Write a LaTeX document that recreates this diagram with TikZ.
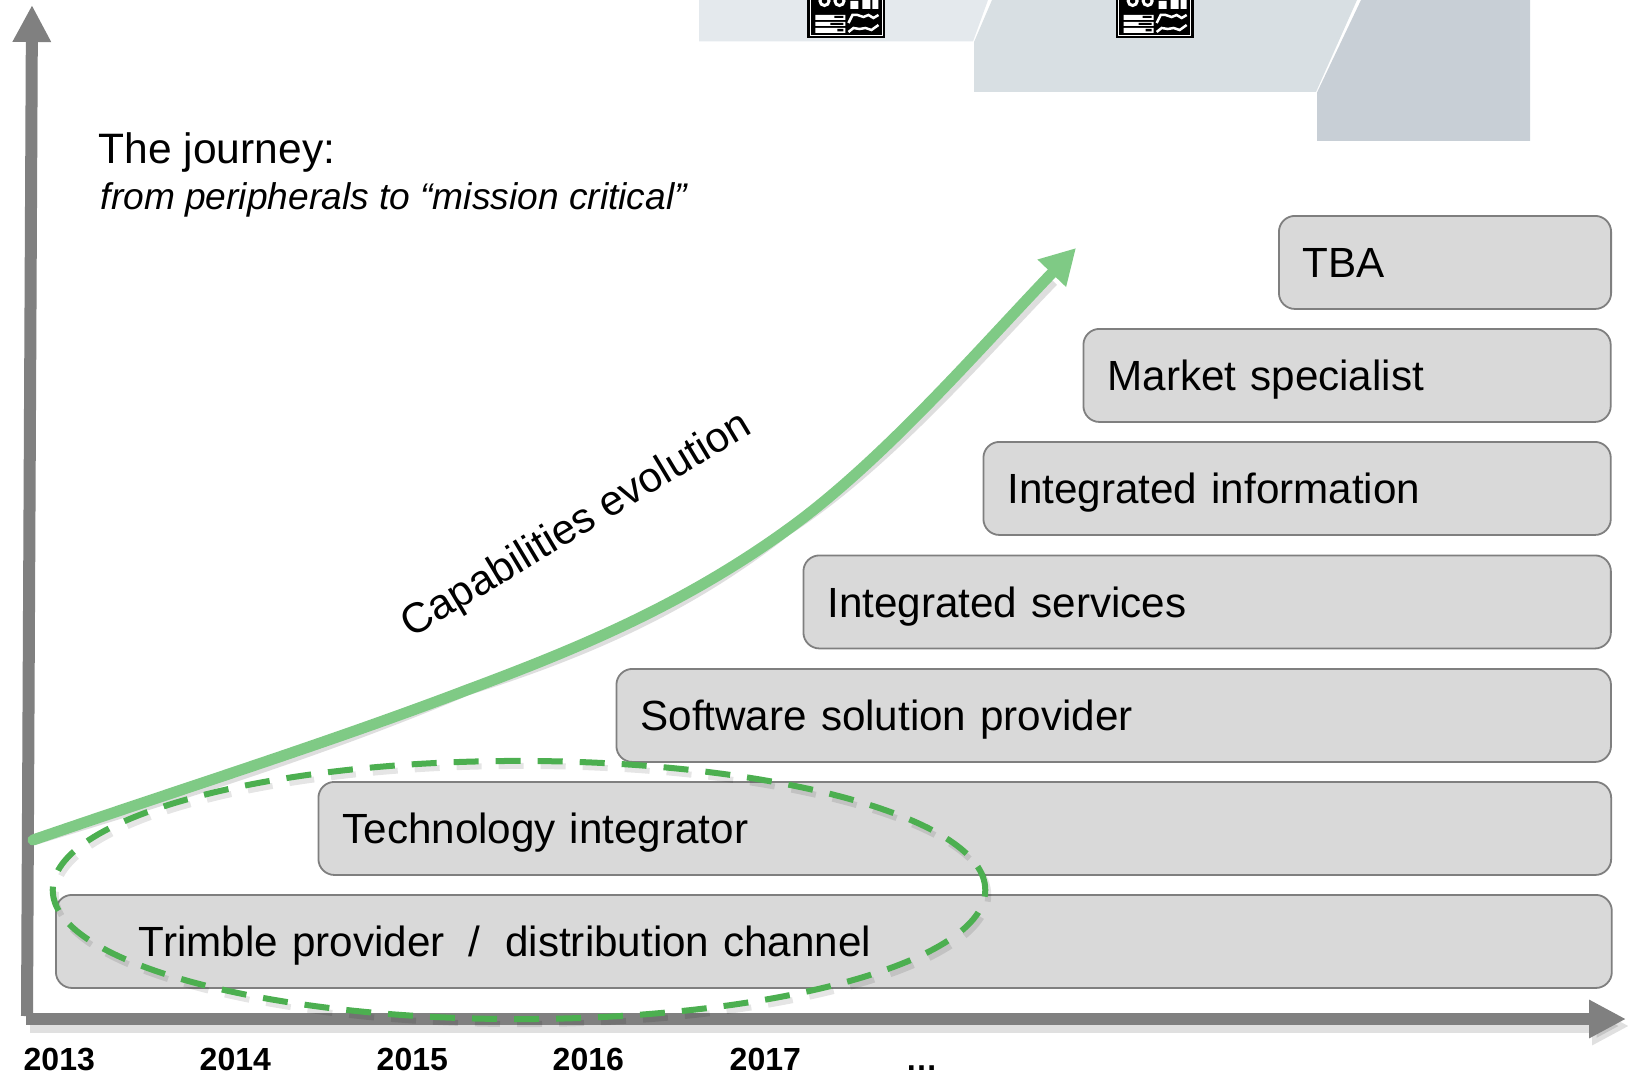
\documentclass[tikz,border=0pt]{standalone}
\usepackage{fontspec}
\setmainfont{Liberation Sans}
\usetikzlibrary{arrows.meta}

\definecolor{panelone}{HTML}{E4E9ED}
\definecolor{paneltwo}{HTML}{D8DFE3}
\definecolor{panelthree}{HTML}{C8CFD6}
\definecolor{stagefill}{HTML}{D9D9D9}
\definecolor{stageline}{HTML}{7F7F7F}
\definecolor{axisgray}{HTML}{808080}
\definecolor{curvegreen}{HTML}{7FCA85}
\definecolor{ringgreen}{HTML}{4CAF50}

\tikzset{
  stagebox/.style={draw=stageline, fill=stagefill, line width=0.18mm, rounded corners=0.16cm, anchor=north west,
    minimum height=0.93cm, inner xsep=0.24cm, inner ysep=0pt, align=left, text height=0.46cm, text depth=0.15cm,
    font=\fontsize{12}{14}\selectfont},
  axisline/.style={draw=axisgray, line width=0.12cm, -{Triangle[length=0.37cm,width=0.36cm]}},
  axisshadow/.style={draw=black, opacity=0.12, line width=0.14cm, -{Triangle[length=0.37cm,width=0.36cm]}},
  curveshadow/.style={draw=black, opacity=0.13, line width=0.11cm},
  ringline/.style={draw=ringgreen, line width=0.06cm, dash pattern=on 0.25cm off 0.17cm},
  yearlabel/.style={anchor=base west, inner sep=0pt, font=\fontsize{9.1}{11}\selectfont\bfseries},
}

\begin{document}
\begin{tikzpicture}[x=0.01cm,y=-0.01cm]

    \useasboundingbox (0,0) rectangle (1631,1076);

    % panels at the top
    \fill[panelone] (699,0) -- (988,0) -- (973,41.5) -- (699,41.5) -- cycle;
    \fill[paneltwo] (992,0) -- (1357,0) -- (1316,92) -- (974,92) -- (974,42) -- cycle;
    \fill[panelthree] (1361,0) -- (1530,0) -- (1530,141) -- (1317,141) -- (1317,92.5) -- cycle;

    \begin{scope}[xshift=8.07cm]
      \fill[black] (0,0) rectangle (78,38);
      \draw[white, line width=0.1mm] (3,0) -- (3,35.5) -- (75,35.5) -- (75,0);
      \draw[white, line width=0.3mm] (17,1) circle [radius=0.045cm] (32,1) circle [radius=0.045cm];
      \fill[white] (43,1) rectangle (51,9) (55,0) rectangle (63,9) (65,0) rectangle (71,9);
      \fill[white] (8,15) rectangle (38,20) (8,22) rectangle (38,26) (8,28) rectangle (38,33);
      \fill[black] (27,16) rectangle (36,18) (23,23) rectangle (36,25) (30,29) rectangle (36,31.5);
      \draw[white, line width=0.25mm] (41,23) -- (45,15) -- (50,15) -- (56,17) -- (61,15) -- (66,18) -- (71,15);
      \draw[white, line width=0.25mm] (41,32) -- (46,28) -- (52,29) -- (58,28) -- (64,30) -- (71,25);
    \end{scope}

    \begin{scope}[xshift=11.15cm]
      \fill[black] (0,0) rectangle (78,38);
      \draw[white, line width=0.1mm] (3,0) -- (3,35.5) -- (75,35.5) -- (75,0);
      \draw[white, line width=0.3mm] (17,1) circle [radius=0.045cm] (32,1) circle [radius=0.045cm];
      \fill[white] (43,1) rectangle (51,9) (55,0) rectangle (63,9) (65,0) rectangle (71,9);
      \fill[white] (8,15) rectangle (38,20) (8,22) rectangle (38,26) (8,28) rectangle (38,33);
      \fill[black] (27,16) rectangle (36,18) (23,23) rectangle (36,25) (30,29) rectangle (36,31.5);
      \draw[white, line width=0.25mm] (41,23) -- (45,15) -- (50,15) -- (56,17) -- (61,15) -- (66,18) -- (71,15);
      \draw[white, line width=0.25mm] (41,32) -- (46,28) -- (52,29) -- (58,28) -- (64,30) -- (71,25);
    \end{scope}

    % axes
    \coordinate (ytop) at (32,5);
    \coordinate (xend) at (1626,1019);

    \draw[axisshadow] (30,1026) -- (1629,1026);
    \draw[axisline] (27,1016) -- (ytop);
    \draw[axisline] (26,1019) -- (xend);

    % title
    \node (title) at (98,163) [anchor=base west, inner sep=0pt, font=\fontsize{12.1}{14}\selectfont] {The journey:};
    \node (subtitle) at (100,209) [anchor=base west, inner sep=0pt, font=\fontsize{10.56}{12}\selectfont\itshape] {from peripherals to “mission critical”};

    % stages
    \node (tba) at (1278,215) [stagebox, minimum width=3.32cm, text width=2.84cm] {TBA};
    \node (market) at (1082.5,328) [stagebox, minimum width=5.27cm, text width=4.79cm] {Market specialist};
    \node (information) at (982.5,441) [stagebox, minimum width=6.27cm, text width=5.79cm] {Integrated information};
    \node (services) at (802.5,554.5) [stagebox, minimum width=8.07cm, text width=7.59cm] {Integrated services};
    \node (software) at (615.5,668) [stagebox, minimum width=9.94cm, text width=9.46cm] {Software solution provider};
    \node (technology) at (317.5,781) [stagebox, minimum width=12.92cm, text width=12.44cm] {Technology integrator};
    \node (trimble) at (55,894) [stagebox, minimum width=15.55cm, text width=15.07cm] {\hspace*{0.59cm}Trimble provider\hspace{0.24cm}/\hspace{0.25cm}distribution channel};

    % capabilities curve
    \coordinate (curvestart) at (33,840);
    \coordinate (curvemid) at (467,690);
    \coordinate (curvebend) at (787,530);
    \coordinate (curvetip) at (1076,248);

    \begin{scope}[xshift=0.03cm,yshift=-0.05cm]
      \draw[curveshadow] (curvestart) .. controls (178,790) and (322,745) .. (curvemid) .. controls (574,650) and (680,607) .. (curvebend) .. controls (883,461) and (980,348) .. (1050,276);
    \end{scope}
    \draw[curvegreen, line width=0.11cm, line cap=round, -{Triangle[length=0.35cm,width=0.37cm]}] (curvestart) .. controls (178,790) and (322,745) .. (curvemid) .. controls (574,650) and (680,607) .. (curvebend) .. controls (883,461) and (980,348) .. (curvetip);

    \node (capabilities) at (577,526) [rotate=31, inner sep=0pt, font=\fontsize{12}{14}\selectfont] {Capabilities evolution};

    % ring round the first stages
    \draw[ringline, black, opacity=0.1] (522,895) ellipse [x radius=4.66cm, y radius=1.29cm];
    \draw[ringline] (519,890) ellipse [x radius=4.66cm, y radius=1.29cm];

    % years
    \node (y2013) at (23,1070) [yearlabel] {2013};
    \node (y2014) at (199,1070) [yearlabel] {2014};
    \node (y2015) at (376,1070) [yearlabel] {2015};
    \node (y2016) at (552,1070) [yearlabel] {2016};
    \node (y2017) at (729,1070) [yearlabel] {2017};
    \node (ydots) at (905,1070) [yearlabel] {…};

  \end{tikzpicture}
\end{document}
